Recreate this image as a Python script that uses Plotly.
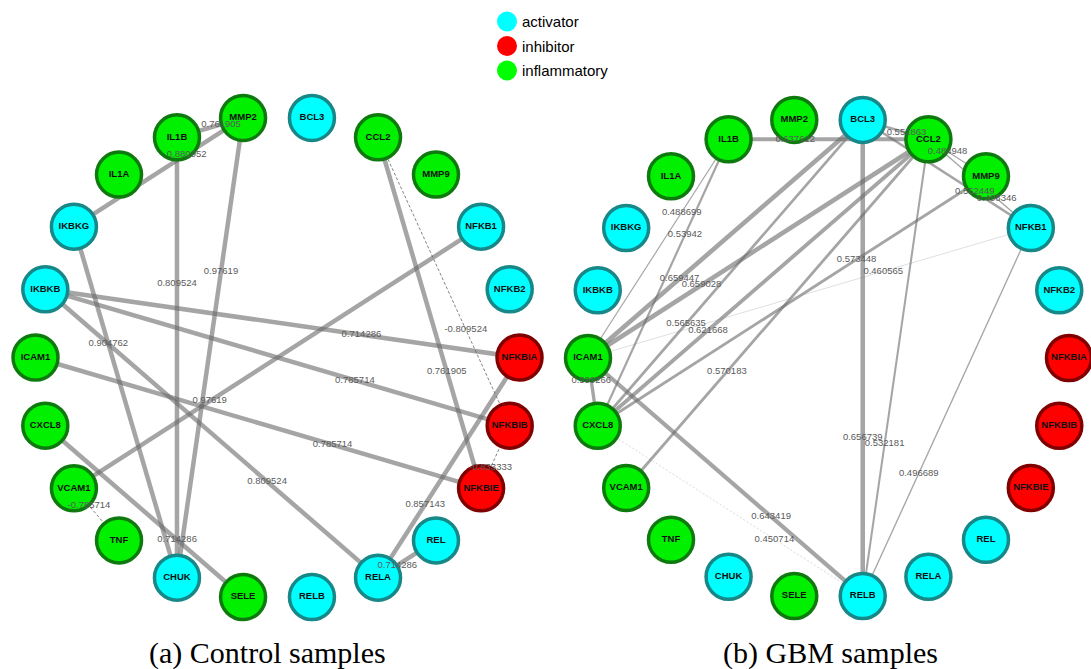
import math
import plotly.graph_objects as go

# Genes in the order they sit around each circular layout (starting at the left, going clockwise)
genes = ["ICAM1", "IKBKB", "IKBKG", "IL1A", "IL1B", "MMP2", "BCL3", "CCL2", "MMP9",
         "NFKB1", "NFKB2", "NFKBIA", "NFKBIB", "NFKBIE", "REL", "RELA", "RELB",
         "SELE", "CHUK", "TNF", "VCAM1", "CXCL8"]

activators = ["IKBKB", "IKBKG", "BCL3", "NFKB1", "NFKB2", "REL", "RELA", "RELB", "CHUK"]
inhibitors = ["NFKBIA", "NFKBIB", "NFKBIE"]
inflammatory = ["ICAM1", "IL1A", "IL1B", "MMP2", "CCL2", "MMP9", "SELE", "TNF", "VCAM1", "CXCL8"]

# Correlation edges: (gene whose end carries the label, other gene, correlation)
control_edges = [
    ("MMP2", "IKBKG", 0.880952),
    ("MMP2", "IL1B", 0.761905),
    ("IL1B", "CHUK", 0.809524),
    ("MMP2", "CHUK", 0.97619),
    ("IKBKG", "CHUK", 0.904762),
    ("NFKBIA", "IKBKB", 0.714286),
    ("NFKBIB", "IKBKB", 0.785714),
    ("NFKBIE", "ICAM1", 0.785714),
    ("RELA", "IKBKB", 0.809524),
    ("SELE", "CXCL8", 0.714286),
    ("VCAM1", "TNF", -0.785714),
    ("VCAM1", "NFKB1", 0.97619),
    ("NFKBIE", "CCL2", 0.761905),
    ("NFKBIB", "CCL2", -0.809524),
    ("NFKBIE", "NFKBIB", -0.833333),
    ("RELA", "NFKBIA", 0.857143),
    ("RELA", "REL", 0.714286),
]

gbm_edges = [
    ("IL1B", "CCL2", 0.637612),
    ("CCL2", "BCL3", 0.551863),
    ("CCL2", "MMP9", 0.484948),
    ("NFKB1", "BCL3", 0.552449),
    ("NFKB1", "CCL2", 0.498346),
    ("MMP9", "CXCL8", 0.573448),
    ("NFKB1", "ICAM1", 0.460565),
    ("IL1B", "ICAM1", 0.488699),
    ("IL1B", "CXCL8", 0.53942),
    ("ICAM1", "BCL3", 0.659447),
    ("ICAM1", "CCL2", 0.659028),
    ("CXCL8", "BCL3", 0.565635),
    ("CXCL8", "CCL2", 0.621668),
    ("VCAM1", "CCL2", 0.570183),
    ("ICAM1", "CXCL8", 0.599266),
    ("RELB", "ICAM1", 0.643419),
    ("RELB", "CXCL8", 0.450714),
    ("RELB", "BCL3", 0.656739),
    ("RELB", "CCL2", 0.532181),
    ("RELB", "NFKB1", 0.496689),
]

legend_labels = ["activator", "inhibitor", "inflammatory"]
captions = ["(a) Control samples", "(b) GBM samples"]

W, H = 1091, 669

ROLE_STYLE = {
    "activator": ("#00FFFF", "#178787"),
    "inhibitor": ("#FF0000", "#800000"),
    "inflammatory": ("#00F000", "#0E7A0E"),
}


def role_of(g):
    if g in activators:
        return "activator"
    if g in inhibitors:
        return "inhibitor"
    return "inflammatory"


def circle_layout(cx, cy, r):
    n = len(genes)
    pos = {}
    for i, g in enumerate(genes):
        a = math.radians(180 - i * 360 / n)
        pos[g] = (cx + r * math.cos(a), cy - r * math.sin(a))
    return pos


def control_width(w):
    return 4.5 if w > 0 else 1.0


def gbm_width(w):
    return max(0.5, (w - 0.43) * 20)


fig = go.Figure()


def draw_network(edges, pos, width_fn):
    lab_x, lab_y, lab_t = [], [], []
    for a, b, w in edges:
        (x0, y0), (x1, y1) = pos[a], pos[b]
        wd = width_fn(w)
        dash = "solid"
        color = "rgba(105,105,105,0.6)"
        if w < 0:
            dash = "3px,2px"
            color = "rgba(90,90,90,0.75)"
        elif wd < 0.6:
            dash = "2px,2px"
            color = "rgba(120,120,120,0.55)"
        elif wd < 1.0:
            color = "rgba(150,150,150,0.5)"
        fig.add_trace(go.Scatter(
            x=[x0, x1], y=[y0, y1], mode="lines",
            line=dict(color=color, width=wd, dash=dash),
            hoverinfo="skip", showlegend=False))
        lab_x.append(x0 + (x1 - x0) / 3)
        lab_y.append(y0 + (y1 - y0) / 3)
        lab_t.append(f"{w:g}")

    for role in ["activator", "inhibitor", "inflammatory"]:
        gs = [g for g in genes if role_of(g) == role]
        fill, border = ROLE_STYLE[role]
        fig.add_trace(go.Scatter(
            x=[pos[g][0] for g in gs], y=[pos[g][1] for g in gs],
            mode="markers+text", text=gs, textposition="middle center",
            textfont=dict(family="Liberation Sans, Arial", size=9.5,
                          color="#101010", weight="bold"),
            marker=dict(size=45, color=fill, line=dict(color=border, width=3.5)),
            hoverinfo="skip", showlegend=False))

    fig.add_trace(go.Scatter(
        x=lab_x, y=lab_y, mode="text", text=lab_t,
        textposition="middle center",
        textfont=dict(family="Liberation Sans, Arial", size=9.5, color="#5a5a5a"),
        hoverinfo="skip", showlegend=False))


draw_network(control_edges, circle_layout(277.5, 357.5, 242), control_width)
draw_network(gbm_edges, circle_layout(828.5, 358, 240.5), gbm_width)

# Legend drawn as circles with labels at the top centre
legend_colors = ["#00FFFF", "#FF0000", "#00FF00"]
for i, (lab, col) in enumerate(zip(legend_labels, legend_colors)):
    yc = 21.5 + i * 24.5
    fig.add_shape(type="circle", xref="x", yref="y",
                  x0=497, x1=517, y0=yc - 10, y1=yc + 10,
                  fillcolor=col, line=dict(width=0))
    fig.add_annotation(x=520, y=yc, text=lab, showarrow=False,
                       xanchor="left", yanchor="middle",
                       font=dict(family="Liberation Sans, Arial", size=15, color="#000"))

for cx, cap in zip([267, 830], captions):
    fig.add_annotation(x=cx, y=653, text=cap, showarrow=False,
                       xanchor="center", yanchor="middle",
                       font=dict(family="Liberation Serif, Times New Roman", size=30, color="#000"))

fig.update_layout(
    width=W, height=H,
    margin=dict(l=0, r=0, t=0, b=0),
    paper_bgcolor="white", plot_bgcolor="white",
    xaxis=dict(range=[0, W], visible=False, fixedrange=True),
    yaxis=dict(range=[H, 0], visible=False, fixedrange=True),
    showlegend=False,
)

fig.write_html("out.html")
